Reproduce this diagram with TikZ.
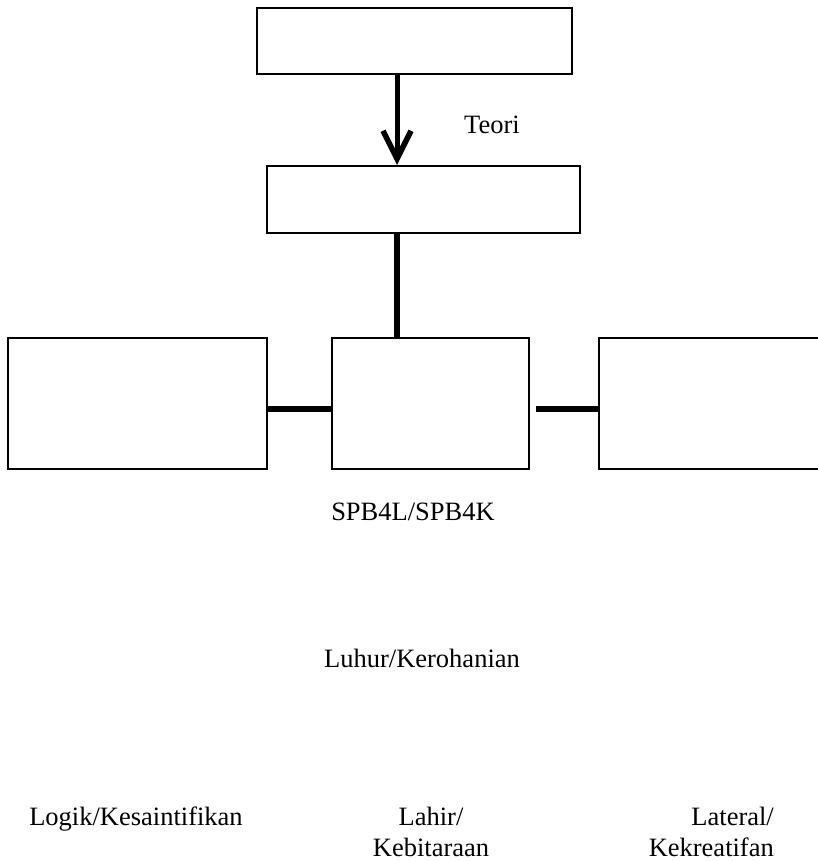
\documentclass[tikz,border=0pt]{standalone}
\usepackage{fontspec}
\setmainfont{Liberation Serif}
\usetikzlibrary{arrows.meta}

\begin{document}
\begin{tikzpicture}[x=1pt, y=-1pt,
    box/.style={draw, line width=2pt, rectangle, fill=white},
    link/.style={line width=6.5pt},
    lbl/.style={font=\fontsize{26.5}{31}\selectfont, inner sep=0pt}]

\useasboundingbox (0,0) rectangle (818,861);

% Top box
\node[box,
    minimum width=315pt,
    minimum height=66pt] (top) at (414.5,41){};

% Second box
\node[box,
    minimum width=313pt,
    minimum height=67pt] (second) at (423.5,199.5){};

% Bottom row
\node[box, minimum width=259pt, minimum height=131pt] (left) at (137.5,403.5){};
\node[box, minimum width=197pt, minimum height=131pt] (mid) at (430.5,403.5){};
\node[box, minimum width=223pt, minimum height=131pt] (right) at (710.5,403.5){};

% Helper coordinates for the connectors
\coordinate (ax) at (397,0);
\coordinate (ly) at (0,409);

% Connectors
\draw[line width=5pt, -{Straight Barb[length=28pt, width=28pt, line width=5.5pt]}]
    (top.south -| ax) -- (second.north -| ax);
\draw[link] (second.south -| ax) -- (mid.north -| ax);
\draw[link] (left.east |- ly) -- (mid.west |- ly);
\draw[link] ([xshift=6pt]mid.east |- ly) -- (right.west |- ly);

% Labels (base of a two-line node is its last line)
\node[lbl, anchor=base] (teori) at (492,134) {Teori};
\node[lbl, anchor=base] (spb) at (413,520) {SPB4L/SPB4K};
\node[lbl, anchor=base] (luhur) at (422,667) {Luhur/Kerohanian};
\node[lbl, anchor=base] (logik) at (136,825) {Logik/Kesaintifikan};
\node[lbl, anchor=base, align=center] (lahir) at (431,856) {Lahir/\\Kebitaraan};
\node[lbl, anchor=base east, align=right] (lateral) at (774,856) {Lateral/\\Kekreatifan};

\end{tikzpicture}
\end{document}
